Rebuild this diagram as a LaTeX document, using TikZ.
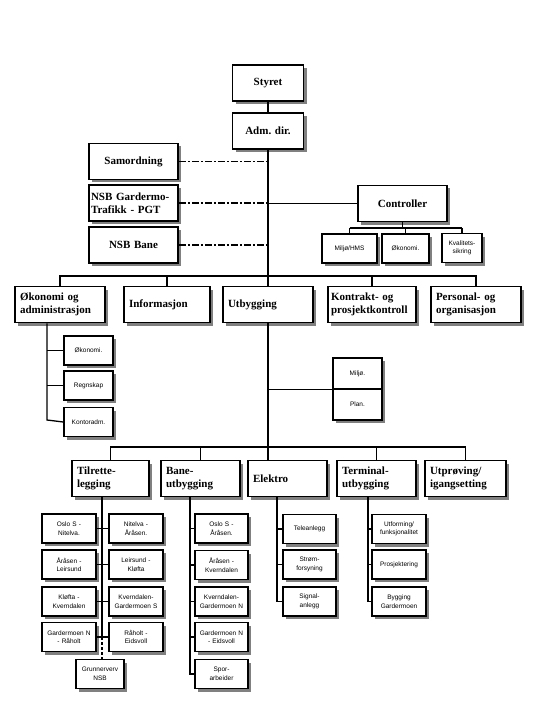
\documentclass[tikz,border=0pt]{standalone}
\usepackage{fontspec}
\setmainfont{Liberation Serif}
\setsansfont{Liberation Sans}
\usetikzlibrary{shadows}
\frenchspacing

\tikzset{
  unit/.style={draw, line width=1.5pt, fill=white, inner sep=0pt,
    drop shadow={shadow xshift=3pt, shadow yshift=-3pt, fill=black!50, opacity=1}},
  head/.style={unit, minimum height=36pt, text width=#1, align=left, inner xsep=5pt,
    font=\fontsize{11}{12.5}\selectfont\bfseries},
  headc/.style={head=#1, align=center},
  sub/.style={unit, minimum height=29pt, text width=#1, align=center, inner xsep=1pt,
    font=\sffamily\fontsize{6.5}{8.5}\selectfont},
  link/.style={line width=1.3pt},
  staffline/.style={line width=1.3pt, dash pattern=on 7pt off 2pt on 2pt off 2pt}
}

\begin{document}
\begin{tikzpicture}[x=1pt,y=-1pt]
\useasboundingbox[fill=white] (0,0) rectangle (539,719);

% top management
\node[headc=61pt] (styret) at (268,83) {Styret};
\node[headc=61pt] (adm) at (268,131) {Adm. dir.};
\node[headc=79pt] (samord) at (133.5,161.5) {Samordning};
\node[head=85pt, inner xsep=2pt] (pgt) at (133.5,203) {NSB Gardermo-\\Trafikk - PGT};
\node[headc=79pt] (bane) at (133.5,245) {NSB Bane};
\node[headc=79pt] (controller) at (402.5,203.5) {Controller};
\node[sub=53pt] (hms) at (349.5,248.5) {Miljø/HMS};
\node[sub=45pt] (okoc) at (405.5,248.5) {Økonomi.};
\node[sub=38pt] (kval) at (462,248) {Kvalitets-\\sikring};

% divisions
\node[head=80pt] (okadm) at (60,304.5) {Økonomi og\\administrasjon};
\node[head=76pt] (info) at (167,304.5) {Informasjon};
\node[head=80pt] (utb) at (268,304.5) {Utbygging};
\node[head=82pt, inner xsep=3pt] (kontr) at (372,304.5) {Kontrakt- og\\prosjektkontroll};
\node[head=80pt] (pers) at (476,304.5) {Personal- og\\organisasjon};

\node[sub=47pt] (ok1) at (88.5,350.5) {Økonomi.};
\node[sub=47pt] (ok2) at (88.5,385.5) {Regnskap};
\node[sub=47pt] (ok3) at (88.5,422) {Kontoradm.};

\node[sub=47pt, minimum height=31pt] (miljo) at (357.5,373.5) {Miljø.};
\node[sub=47pt, minimum height=31pt] (plan) at (357.5,404.5) {Plan.};

% Utbygging
\node[head=67pt] (tilr) at (110.5,478.5) {Tilrette-\\legging};
\node[head=69pt] (baneu) at (200.5,478.5) {Bane-\\utbygging};
\node[head=69pt] (elek) at (287.5,478.5) {Elektro};
\node[head=69pt] (term) at (376.5,478.5) {Terminal-\\utbygging};
\node[head=71pt] (utpr) at (465.5,478.5) {Utprøving/\\igangsetting};

\node[sub=52pt] (t1) at (69,528.5) {Oslo S -\\Nitelva.};
\node[sub=52pt] (t2) at (136,528.5) {Nitelva -\\Åråsen.};
\node[sub=52pt] (t3) at (69,564.5) {Åråsen -\\Leirsund};
\node[sub=52pt] (t4) at (136,564.5) {Leirsund -\\Kløfta};
\node[sub=52pt] (t5) at (69,601.5) {Kløfta -\\Kverndalen};
\node[sub=52pt] (t6) at (136,601.5) {Kverndalen-\\Gardermoen S};
\node[sub=52pt] (t7) at (69,637) {Gardermoen N\\- Råholt};
\node[sub=52pt] (t8) at (136,637) {Råholt -\\Eidsvoll};
\node[sub=46pt] (grunn) at (100,674) {Grunnerverv\\NSB};

\node[sub=51pt] (b1) at (221.5,528.5) {Oslo S -\\Åråsen.};
\node[sub=51pt] (b2) at (221.5,565) {Åråsen -\\Kverndalen};
\node[sub=51pt] (b3) at (221.5,601.5) {Kverndalen-\\Gardermoen N};
\node[sub=51pt] (b4) at (221.5,637) {Gardermoen N\\- Eidsvoll};
\node[sub=51pt] (b5) at (221.5,674) {Spor-\\arbeider};

\node[sub=51pt] (e1) at (309.5,529) {Teleanlegg};
\node[sub=51pt] (e2) at (309.5,564.5) {Strøm-\\forsyning};
\node[sub=51pt] (e3) at (309.5,601.5) {Signal-\\anlegg};

\node[sub=52pt] (r1) at (399,529) {Utforming/\\funksjonalitet};
\node[sub=52pt] (r2) at (399,564.5) {Prosjektering};
\node[sub=52pt] (r3) at (399,601.5) {Bygging\\Gardermoen};

% connectors
\coordinate (tbar) at (268,276);
\coordinate (bbar) at (268,447);
\coordinate (cbar) at (405.5,228);
\coordinate (okv) at (47,420);
\coordinate (tv) at (102,637);
\coordinate (bv) at (190,674);
\coordinate (ev) at (277,601.5);
\coordinate (rv) at (368,601.5);

\draw[link] (styret) -- (adm);
\draw[link] (adm.south) -- (utb.north);
\draw[link] (utb.south) -- (utb.south |- elek.north);
\foreach \n in {samord,pgt,bane}
  \draw[staffline] (\n.east) -- (adm.south |- \n.east);
\draw[link] (adm.south |- controller.west) -- (controller.west);
\draw[link] (controller.south) -- (controller.south |- cbar);
\draw[link] (hms.north |- cbar) -- (kval.north |- cbar);
\foreach \n in {hms,okoc,kval}
  \draw[link] (\n.north |- cbar) -- (\n.north);

\draw[link] (okadm.north) -- (okadm.north |- tbar) -- (pers.north |- tbar) -- (pers.north);
\foreach \n in {info,kontr}
  \draw[link] (\n.north |- tbar) -- (\n.north);

\draw[link] (okadm.south -| okv) -- (okv) -- (ok3.west);
\foreach \n in {ok1,ok2}
  \draw[link] (okv |- \n.west) -- (\n.west);
\draw[link] (utb.south |- miljo.south west) -- (miljo.south west);

\draw[link] (tilr.north) -- (tilr.north |- bbar) -- (utpr.north |- bbar) -- (utpr.north);
\foreach \n in {baneu,term}
  \draw[link] (\n.north |- bbar) -- (\n.north);

\draw[link] (tilr.south -| tv) -- (tv);
\draw[link, densely dashed] (tv) -- (tv |- grunn.north);
\draw[link] (t1.east) -- (t2.west);
\draw[link] (t3.east) -- (t4.west);
\draw[link] (t5.east) -- (t6.west);
\draw[link] (t7.east) -- (t8.west);

\draw[link] (baneu.south -| bv) -- (bv) -- (b5.west);
\foreach \n in {b1,b2,b3,b4}
  \draw[link] (bv |- \n.west) -- (\n.west);
\draw[link] (elek.south -| ev) -- (ev) -- (e3.west);
\foreach \n in {e1,e2}
  \draw[link] (ev |- \n.west) -- (\n.west);
\draw[link] (term.south -| rv) -- (rv) -- (r3.west);
\foreach \n in {r1,r2}
  \draw[link] (rv |- \n.west) -- (\n.west);
\end{tikzpicture}
\end{document}
